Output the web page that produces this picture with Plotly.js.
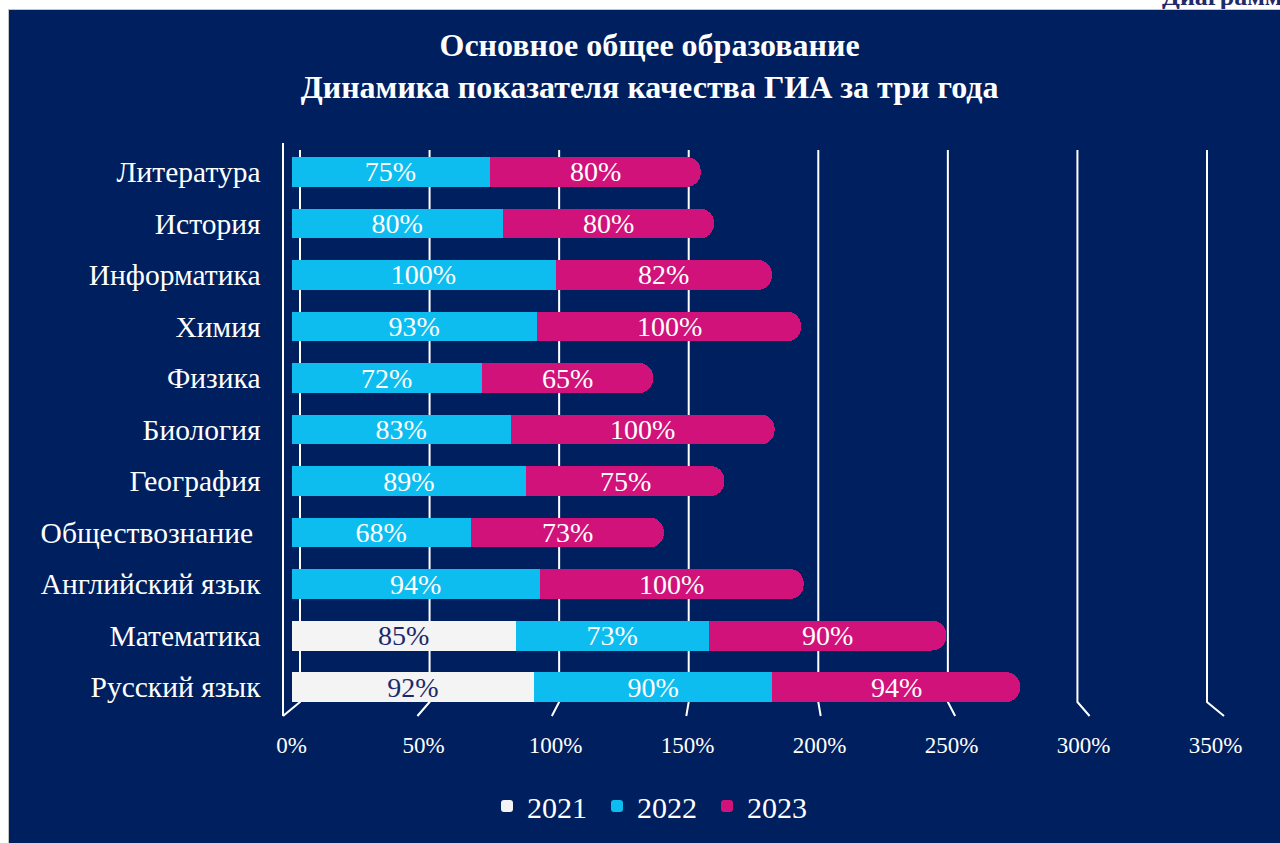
<!DOCTYPE html>
<html><head><meta charset="utf-8">
<script src="https://cdn.plot.ly/plotly-3.0.1.min.js"></script>
<style>
html,body{margin:0;padding:0;background:#fff;width:1280px;height:843px;overflow:hidden;position:relative}
#cap{position:absolute;left:1162px;top:-16px;font:bold 26px "Liberation Serif",serif;line-height:26px;color:#1f2a6b;white-space:nowrap;z-index:1}
#frame{position:absolute;left:8px;top:9px;width:1272px;height:834px;border-top:1px solid #c4c4c4;border-left:1px solid #c4c4c4;z-index:2;background:#001f5e}
#chart{width:1271px;height:833px}
</style></head><body>
<div id="cap">Диаграмма</div>
<div id="frame"><div id="chart"></div></div>
<script>
const categories = ['Литература','История','Информатика','Химия','Физика','Биология','География','Обществознание\u00a0','Английский язык','Математика','Русский язык'];
const years = ['2021','2022','2023'];
const v2021 = [null,null,null,null,null,null,null,null,null,85,92];
const v2022 = [75,80,100,93,72,83,89,68,94,73,90];
const v2023 = [80,80,82,100,65,100,75,73,100,90,94];
const xTicks = [0,50,100,150,200,250,300,350];

const NAVY = '#001f5e';
const SERIF = 'Liberation Serif, Times New Roman, serif';
const colors = ['#f4f4f4','#0dbdf0','#d0127a'];
const textColors = ['#1b2a6b','#ffffff','#ffffff'];
const series = [v2021, v2022, v2023];
const BARFONT = 28;

const traces = series.map((vals, i) => ({
  type: 'bar', orientation: 'h', name: years[i],
  y: categories, x: vals, xaxis: 'x', yaxis: 'y',
  marker: {color: colors[i], line: {width: 0}},
  texttemplate: i < 2 ? '%{x}%' : '', textposition: i < 2 ? 'inside' : 'none',
  insidetextanchor: 'middle',
  textfont: {family: SERIF, size: BARFONT, color: textColors[i]},
  constraintext: 'none', hoverinfo: 'skip'
}));

// labels of the last (rounded) segment, placed at the segment centre from the data
const annotations = categories.map((c, i) => ({
  xref: 'x', yref: 'y', x: (v2021[i] || 0) + v2022[i] + v2023[i] / 2, y: c,
  text: v2023[i] + '%', showarrow: false, xanchor: 'center', yanchor: 'middle',
  font: {family: SERIF, size: BARFONT, color: textColors[2]}
}));

// geometry of the 3D-looking floor (paper units)
const backDom = [17/941, 924/941];   // back wall gridlines
const midDom = [8.5/941, 932.5/941]; // bars
const floorTop = 14/567;
const shapes = xTicks.map(v => {
  const bx = backDom[0] + v/350*(backDom[1]-backDom[0]);
  const fx = v/350;
  return {type: 'path', xref: 'paper', yref: 'paper', layer: 'below',
    path: `M ${bx} 1 L ${bx} ${floorTop} L ${fx} 0`,
    line: {color: '#ffffff', width: 2}};
});
shapes.push({type: 'line', xref: 'paper', yref: 'paper', layer: 'below',
  x0: 0, x1: 0, y0: 0, y1: (717-143)/567, line: {color: '#ffffff', width: 2}});

const layout = {
  width: 1271, height: 833,
  paper_bgcolor: NAVY, plot_bgcolor: 'rgba(0,0,0,0)',
  margin: {l: 274, r: 56, t: 140, b: 126},
  barmode: 'stack', bargap: 0.42, barcornerradius: 15,
  showlegend: true,
  title: {text: 'Основное общее образование<br>Динамика показателя качества ГИА за три года',
    font: {family: SERIF, size: 32, color: '#ffffff', weight: 'bold'},
    xref: 'container', x: 0.504, xanchor: 'center', yref: 'container', y: 1 - 46/833, yanchor: 'middle'},
  xaxis: {domain: midDom, range: [0, 350], showgrid: false, zeroline: false,
    showticklabels: false, showline: false, fixedrange: true},
  xaxis2: {domain: [0, 1], range: [0, 350], overlaying: 'x', anchor: 'free', position: 0,
    side: 'bottom', tickvals: xTicks, ticktext: xTicks.map(v => v + '%'),
    showgrid: false, zeroline: false, showline: false, ticks: '',
    ticklabelstandoff: 13,
    tickfont: {family: SERIF, size: 23, color: '#ffffff'}},
  yaxis: {domain: [floorTop, 1], type: 'category', categoryarray: categories,
    range: [10.29, -0.426], showgrid: false, zeroline: false, showline: false,
    ticks: '', ticklabelstandoff: 30,
    tickfont: {family: SERIF, size: 29.5, color: '#ffffff'}},
  legend: {orientation: 'h', x: (487-283)/941, xanchor: 'left', y: (717-806)/567, yanchor: 'middle',
    traceorder: 'normal', font: {family: SERIF, size: 30, color: '#ffffff'},
    entrywidth: 65, entrywidthmode: 'pixels', bgcolor: 'rgba(0,0,0,0)'},
  annotations: annotations,
  shapes: shapes
};

traces.push({type: 'scatter', x: [], y: [], xaxis: 'x2', yaxis: 'y', showlegend: false, hoverinfo: 'skip'});

Plotly.newPlot('chart', traces, layout, {displayModeBar: false, staticPlot: true});
</script>
</body></html>
